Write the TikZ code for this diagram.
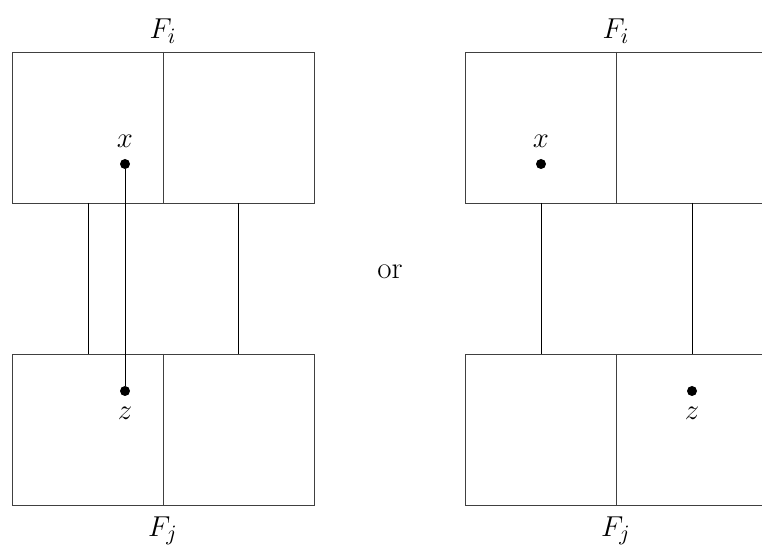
\documentclass[tikz,border=0pt]{standalone}
\begin{document}
\begin{tikzpicture}[x=0.5pt,y=-0.5pt,
  every node/.style={font=\fontsize{15.5}{18}\selectfont},
  frame/.style={draw=black!75,line width=0.45pt},
  link/.style={draw=black,line width=0.45pt},
  pt/.style={circle,fill=black,inner sep=0pt,minimum size=5pt}]
\useasboundingbox (0,0) rectangle (762,550);
% left diagram
\draw[frame] (12,52) rectangle (314,203);
\draw[frame] (163,52) -- (163,203);
\draw[frame] (12,354) rectangle (314,505);
\draw[frame] (163,354) -- (163,505);
\coordinate (la1) at (88,203); \coordinate (la2) at (88,354);
\coordinate (lb1) at (238,203); \coordinate (lb2) at (238,354);
\draw[link] (la1) -- (la2);
\draw[link] (lb1) -- (lb2);
\node[pt] (x1) at (125,164) {};
\node[pt] (z1) at (125,391) {};
\draw[link] (x1) -- (z1);
\node (lx1) at (125,141) {$x$};
\node (lz1) at (125,413) {$z$};
\node (fi1) at (163,31) {$F_i$};
\node (fj1) at (163,531) {$F_j$};
% or
\node (or) at (390,272) {or};
% right diagram
\draw[frame] (800,52) -- (465,52) -- (465,203) -- (800,203);
\draw[frame] (616,52) -- (616,203);
\draw[frame] (800,354) -- (465,354) -- (465,505) -- (800,505);
\draw[frame] (616,354) -- (616,505);
\coordinate (ra1) at (541,203); \coordinate (ra2) at (541,354);
\coordinate (rb1) at (692,203); \coordinate (rb2) at (692,354);
\draw[link] (ra1) -- (ra2);
\draw[link] (rb1) -- (rb2);
\node[pt] (x2) at (541,164) {};
\node[pt] (z2) at (692,391) {};
\node (lx2) at (541,141) {$x$};
\node (lz2) at (692,413) {$z$};
\node (fi2) at (616,31) {$F_i$};
\node (fj2) at (616,531) {$F_j$};
\end{tikzpicture}
\end{document}
